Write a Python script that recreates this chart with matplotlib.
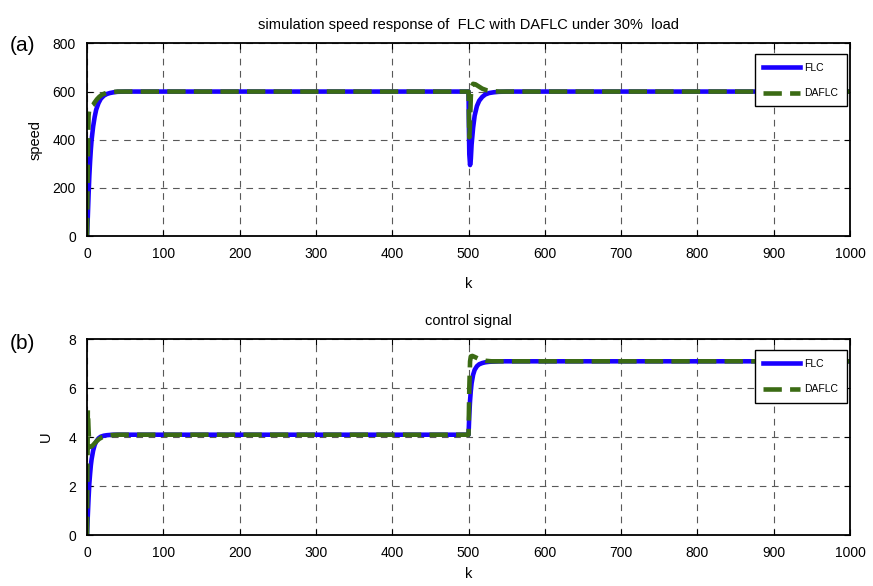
import numpy as np
import matplotlib
matplotlib.use('Agg')
import matplotlib.pyplot as plt

plt.rcParams['font.family'] = ['Liberation Sans', 'DejaVu Sans']

# speed response
k_flc_speed = [0, 1, 2, 3, 4, 5, 6, 8, 10, 12, 15, 18, 22, 26, 30, 35, 40, 50, 60,
               500, 500.5, 501, 502, 503, 504, 506, 508, 511, 514, 518, 522, 527, 533, 540, 550, 560, 1000]
flc_speed = [0, 80, 170, 250, 310, 360, 400, 455, 495, 525, 552, 570, 583, 590, 594, 597, 599, 600, 600,
             600, 450, 340, 295, 320, 380, 450, 500, 540, 562, 578, 588, 594, 597, 599, 600, 600, 600]
k_daflc_speed = [0, 1, 2, 3, 4, 6, 8, 10, 13, 16, 20, 25, 30, 40, 50,
                 500, 501, 502, 503, 504, 506, 509, 513, 518, 524, 530, 540, 1000]
daflc_speed = [0, 300, 500, 530, 538, 540, 545, 555, 568, 578, 588, 594, 597, 600, 600,
               600, 410, 470, 580, 620, 632, 630, 622, 612, 605, 602, 600, 600]

# control signal
k_flc_u = [0, 1, 2, 3, 4, 5, 6, 8, 10, 12, 15, 18, 22, 26, 30, 35, 40, 50, 60,
           500, 501, 502, 503, 504, 506, 508, 511, 514, 518, 522, 527, 533, 540, 550, 1000]
flc_u = [0, 0.8, 1.5, 2.1, 2.5, 2.85, 3.1, 3.45, 3.68, 3.82, 3.95, 4.02, 4.06, 4.08, 4.09, 4.1, 4.1, 4.1, 4.1,
         4.1, 4.9, 5.5, 5.9, 6.2, 6.55, 6.75, 6.9, 6.98, 7.03, 7.06, 7.08, 7.09, 7.1, 7.1, 7.1]
k_daflc_u = [0, 1, 2, 3, 4, 6, 8, 10, 13, 16, 20, 25, 30, 40, 50,
             500, 501, 502, 503, 505, 508, 512, 517, 523, 530, 540, 1000]
daflc_u = [0, 5.1, 4.3, 3.65, 3.6, 3.62, 3.68, 3.75, 3.85, 3.93, 4.0, 4.05, 4.08, 4.1, 4.1,
           4.1, 6.0, 7.1, 7.3, 7.32, 7.28, 7.22, 7.16, 7.12, 7.1, 7.1, 7.1]

xticks = [0, 100, 200, 300, 400, 500, 600, 700, 800, 900, 1000]

blue = '#1a00ff'
green = '#3b6b14'

fig = plt.figure(figsize=(8.73, 5.86), dpi=100)
ax1 = fig.add_axes([0.0997, 0.597, 0.874, 0.329])
ax2 = fig.add_axes([0.0997, 0.087, 0.874, 0.334])


def style(ax, ylim, yticks):
    ax.set_xlim(0, 1000)
    ax.set_ylim(*ylim)
    ax.set_xticks(xticks)
    ax.set_yticks(yticks)
    ax.tick_params(direction='in', top=True, right=True, labelsize=10, length=4, width=0.8)
    ax.tick_params(axis='x', pad=8)
    ax.tick_params(axis='y', pad=8)
    ax.grid(True, color='0.35', linestyle=(0, (6, 5)), linewidth=0.8)
    for s in ax.spines.values():
        s.set_linewidth(1.3)
    leg = ax.legend(loc='upper right', bbox_to_anchor=(1.0, 0.96), fontsize=7.5,
                    fancybox=False, edgecolor='black', framealpha=1,
                    handlelength=3.6, borderpad=0.8, labelspacing=1.5, handletextpad=0.4,
                    borderaxespad=0.3)
    leg.get_frame().set_linewidth(1.0)


ax1.plot(k_flc_speed, flc_speed, color=blue, lw=3.3, label='FLC')
ax1.plot(k_daflc_speed, daflc_speed, color=green, lw=3.3, dashes=(4, 1.8), label='DAFLC')
style(ax1, (0, 800), [0, 200, 400, 600, 800])
ax1.set_title('simulation speed response of  FLC with DAFLC under 30%  load', fontsize=10.5, pad=10)
ax1.set_xlabel('k', fontsize=10.5, labelpad=11)
ax1.set_ylabel('speed', fontsize=10.5, labelpad=7)

ax2.plot(k_flc_u, flc_u, color=blue, lw=3.3, label='FLC')
ax2.plot(k_daflc_u, daflc_u, color=green, lw=3.3, dashes=(4, 1.8), label='DAFLC')
style(ax2, (0, 8), [0, 2, 4, 6, 8])
ax2.set_title('control signal', fontsize=10.5, pad=10)
ax2.set_xlabel('k', fontsize=10.5, labelpad=5)
ax2.set_ylabel('U', fontsize=10.5, labelpad=11)

fig.text(0.011, 0.913, '(a)', fontsize=15)
fig.text(0.011, 0.405, '(b)', fontsize=15)

fig.savefig('out.png', dpi=100)
